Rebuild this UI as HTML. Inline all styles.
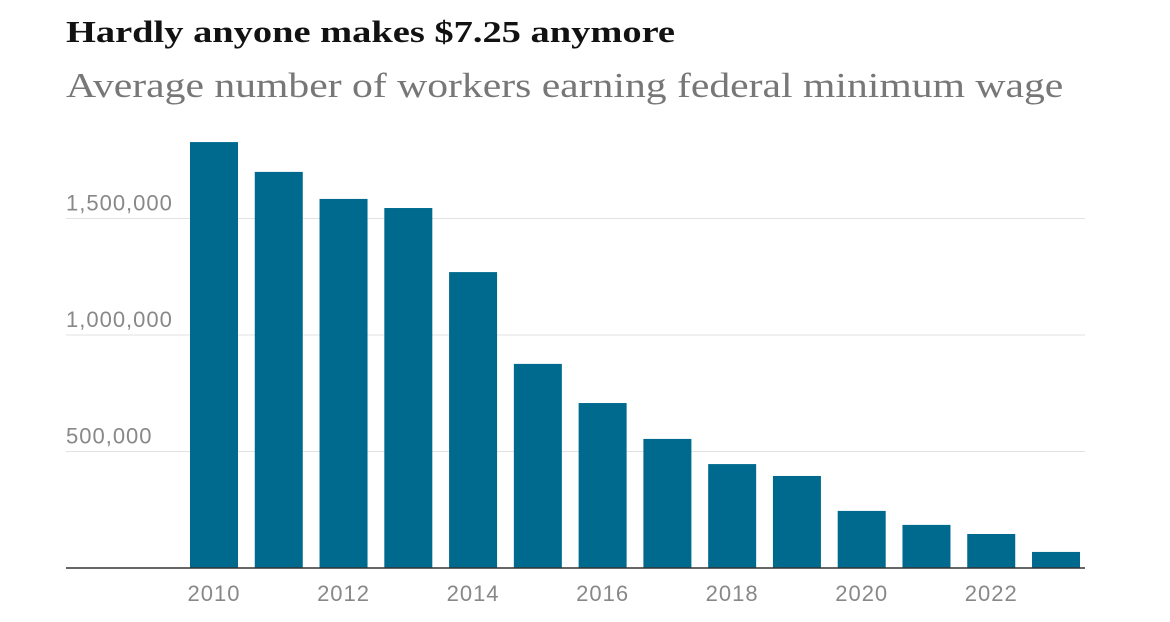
<!DOCTYPE html>
<html><head><meta charset="utf-8"><style>
body{margin:0;background:#fff;width:1170px;height:622px;overflow:hidden}
.t{position:absolute;left:66px;top:14px;font:bold 31px "Liberation Serif",serif;color:#121212;transform-origin:0 0;transform:scaleX(1.24);white-space:nowrap}
.s{position:absolute;left:66px;top:66px;font:35px "Liberation Serif",serif;color:#777;transform-origin:0 0;transform:scaleX(1.19);white-space:nowrap}
svg{position:absolute;left:0;top:0}
</style></head><body>
<div class="t">Hardly anyone makes $7.25 anymore</div>
<div class="s">Average number of workers earning federal minimum wage</div>
<svg id="c" width="1170" height="622"></svg>
<script>
const years=[2010,2011,2012,2013,2014,2015,2016,2017,2018,2019,2020,2021,2022,2023];
const values=[1828000,1700000,1584000,1545000,1270000,876000,708000,554000,446000,395000,245000,185000,146000,69000];
const yTicks=[500000,1000000,1500000];
const xTickYears=[2010,2012,2014,2016,2018,2020,2022];
const NS="http://www.w3.org/2000/svg",svg=document.getElementById('c');
const y=v=>568-v*116.5/500000;
const x0=190,step=64.77,bw=48;
const x=i=>x0+i*step;
function mk(t,a){const e=document.createElementNS(NS,t);for(const k in a)e.setAttribute(k,a[k]);svg.appendChild(e);return e;}
yTicks.forEach(v=>{
 const l=mk('line',{x1:66,x2:1085,y1:y(v),y2:y(v),stroke:'#e2e2e2','stroke-width':1});
 
 
 const t=mk('text',{x:66,y:y(v)-8,fill:'#888','font-size':22,'letter-spacing':1,'font-family':'Liberation Sans, sans-serif'});
 t.textContent=v.toLocaleString('en-US');
 
 
});
values.forEach((v,i)=>{
 const r=mk('rect',{x:x(i),y:y(v),width:bw,height:568-y(v),fill:'#006a8e'});
 
 
});
const b=mk('line',{x1:66,x2:1085,y1:568,y2:568,stroke:'#333','stroke-width':1.5});


xTickYears.forEach(yr=>{
 const i=years.indexOf(yr);
 const t=mk('text',{x:x(i)+bw/2,y:601,fill:'#888','font-size':22,'letter-spacing':1,'text-anchor':'middle','font-family':'Liberation Sans, sans-serif'});
 t.textContent=yr;
 
 
});
</script>
</body></html>
